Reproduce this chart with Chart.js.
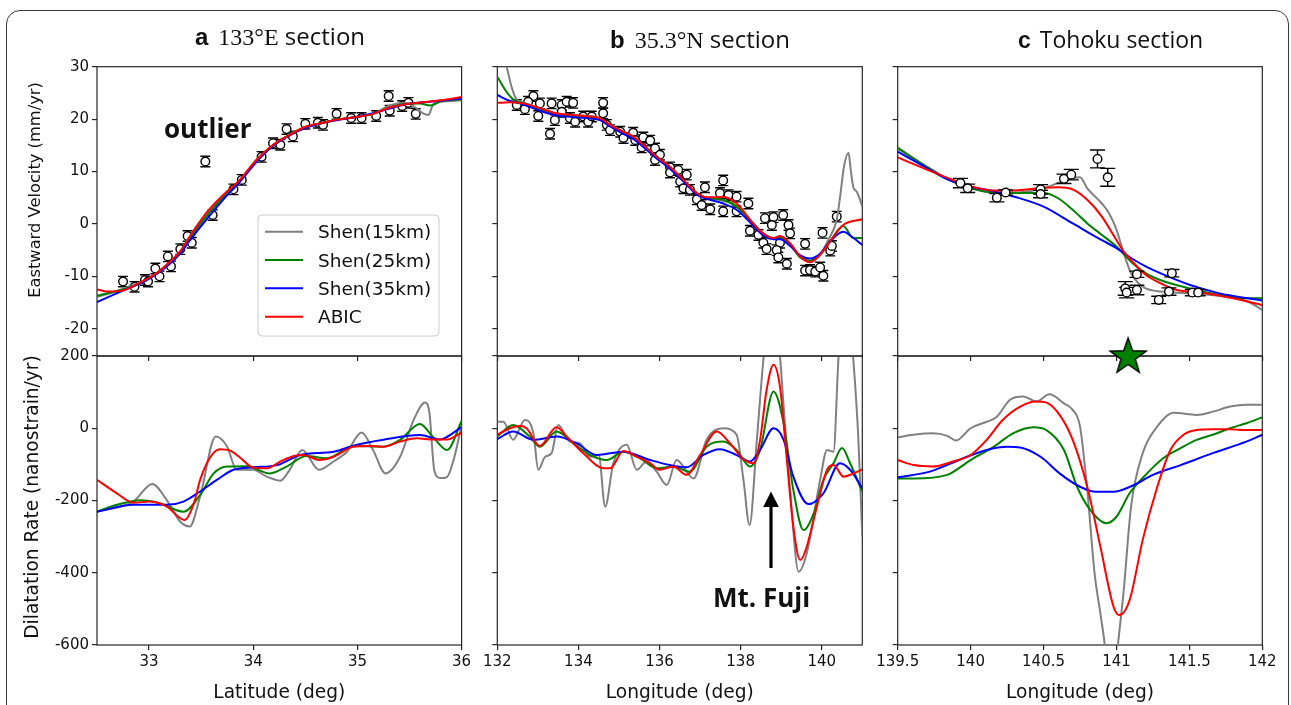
<!DOCTYPE html>
<html><head><meta charset="utf-8">
<script src="https://cdn.jsdelivr.net/npm/chart.js@4.4.1/dist/chart.umd.min.js"></script>
<style>
html,body{margin:0;padding:0;background:#fff;}
#wrap{position:relative;width:1291px;height:705px;overflow:hidden;background:#fff;}
canvas{position:absolute;}
#frame{position:absolute;left:6px;top:10px;width:1283px;height:760px;border:1.5px solid #3a3a3a;border-radius:14px;box-sizing:border-box;}
#ann{position:absolute;left:0;top:0;pointer-events:none;}
</style></head><body>
<div id="wrap">
<div id="frame"></div>
<canvas id="aDil"></canvas><canvas id="bDil"></canvas><canvas id="cDil"></canvas>
<canvas id="aVel"></canvas><canvas id="bVel"></canvas><canvas id="cVel"></canvas>
<svg id="ann" width="1291" height="705" xmlns="http://www.w3.org/2000/svg"></svg>
</div>
<script>
// ---------- series / labels ----------
const SERIES = ['Shen(15km)', 'Shen(25km)', 'Shen(35km)', 'ABIC'];
const COLORS = ['#808080', '#008000', '#0000ff', '#ff0000'];

// ---------- tick labels / ranges ----------
const aLatTicks = [33, 34, 35, 36];
const bLonTicks = [132, 134, 136, 138, 140];
const cLonTicks = [139.5, 140, 140.5, 141, 141.5, 142];
const velTicks = [-20, -10, 0, 10, 20, 30];
const dilTicks = [-600, -400, -200, 0, 200];
const aLatRange = [32.5, 36];
const bLonRange = [132, 141];
const cLonRange = [139.5, 142];
const velRange = [-25.2, 30];
const dilRange = [-600, 200];

// ---------- (a) 133E section, velocity ----------
const aVelLat15 = [32.5,32.65,32.8,32.95,33.07,33.2,33.3,33.39,33.48,33.55,33.71,33.87,34.03,34.19,34.35,34.51,34.67,34.8,34.99,35.15,35.31,35.45,35.55,35.63,35.68,35.73,35.8,36];
const aVel15    = [-13.9,-13.1,-12.0,-11.0,-9.4,-7.3,-5.3,-2.6,0.0,1.7,5.2,8.3,12.2,15.0,17.1,18.6,19.3,19.9,20.4,21.0,22.6,23.1,22.3,21.1,20.8,22.9,23.3,23.6];
const aVelLat25 = [32.5,32.65,32.8,32.95,33.07,33.2,33.3,33.39,33.55,33.71,33.87,34.03,34.19,34.35,34.51,34.67,34.8,34.99,35.15,35.31,35.45,35.6,35.7,35.8,36];
const aVel25    = [-13.7,-13.0,-12.2,-11.0,-9.5,-7.4,-5.4,-2.8,1.4,5.0,8.2,12.0,15.0,17.0,18.5,19.3,19.9,20.4,21.0,22.2,22.9,23.0,22.6,23.4,23.8];
const aVelLat35 = [32.5,32.65,32.8,32.95,33.07,33.2,33.3,33.39,33.55,33.71,33.87,34.03,34.19,34.35,34.51,34.67,34.8,34.99,35.15,35.31,35.45,35.63,35.8,36];
const aVel35    = [-14.9,-13.6,-12.3,-11.0,-9.6,-7.6,-5.6,-3.2,0.8,4.6,8.0,11.8,14.9,16.9,18.4,19.3,19.8,20.4,21.1,22.0,22.8,23.2,23.5,23.9];
const aVelLatAB = [32.5,32.6,32.75,32.9,33.07,33.2,33.3,33.39,33.55,33.71,33.87,34.03,34.19,34.35,34.51,34.67,34.8,34.99,35.15,35.31,35.45,35.63,35.8,36];
const aVelAB    = [-12.5,-12.9,-12.7,-11.3,-9.4,-7.2,-5.2,-2.4,2.1,5.5,8.4,12.2,15.1,17.0,18.6,19.3,19.9,20.4,21.0,22.2,22.8,23.2,23.6,24.2];
const aObsLat = [32.75,32.86,32.96,32.99,33.06,33.10,33.18,33.21,33.30,33.37,33.41,33.54,33.61,33.81,33.89,34.08,34.19,34.26,34.32,34.38,34.50,34.62,34.67,34.80,34.94,35.04,35.18,35.30,35.31,35.43,35.49,35.56];
const aObsVel = [-11.0,-12.0,-10.7,-11.0,-8.5,-10.0,-6.2,-8.1,-4.8,-2.3,-3.6,11.9,1.7,6.6,8.4,12.8,15.4,15.1,18.1,16.7,19.1,19.3,18.9,21.0,20.2,20.2,20.6,24.4,21.6,22.5,23.1,21.0];
const aObsErr = 1.0;

// ---------- (a) dilatation ----------
const aDilLat15 = [32.5,32.85,33.03,33.17,33.3,33.39,33.49,33.64,33.75,33.84,34.0,34.13,34.26,34.35,34.47,34.63,34.77,34.9,35.04,35.15,35.27,35.41,35.54,35.65,35.69,35.74,35.8,35.86,35.93,36];
const aDil15    = [-231,-203,-154,-199,-259,-272,-189,-23,-51,-115,-115,-134,-145,-115,-60,-115,-92,-65,-12,-60,-125,-79,23,71,45,-120,-138,-135,-80,9];
const aDilLat25 = [32.5,32.69,32.92,33.11,33.33,33.49,33.62,33.75,33.94,34.16,34.32,34.51,34.71,34.96,35.25,35.41,35.6,35.73,35.86,36];
const aDil25    = [-231,-212,-199,-208,-231,-185,-125,-106,-105,-125,-106,-77,-83,-49,-51,-32,12,-26,-60,20];
const aDilLat35 = [32.5,32.85,33.17,33.33,33.49,33.65,33.81,34.0,34.23,34.45,34.77,34.99,35.25,35.6,35.79,36];
const aDil35    = [-231,-212,-212,-203,-175,-143,-115,-108,-102,-74,-65,-46,-32,-19,-31,3];
const aDilLatAB = [32.5,32.69,32.85,33.0,33.17,33.3,33.34,33.43,33.49,33.59,33.68,33.78,33.88,34.0,34.13,34.26,34.39,34.48,34.64,34.77,34.96,35.09,35.25,35.41,35.57,35.73,35.86,36];
const aDilAB    = [-143,-180,-206,-203,-217,-249,-254,-208,-143,-79,-58,-62,-83,-109,-111,-92,-77,-74,-88,-79,-51,-49,-51,-37,-28,-31,-31,-12];

// ---------- (b) 35.3N section, velocity ----------
const bVelLon15 = [132,132.23,132.35,132.48,132.64,133.05,133.46,133.87,134.29,134.53,134.78,135.11,135.35,135.6,135.93,136.26,136.59,136.92,137.16,137.57,137.9,138.31,138.56,138.81,138.97,139.22,139.47,139.71,139.96,140.2,140.37,140.45,140.55,140.66,140.72,140.78,140.86,140.95,141];
const bVel15    = [35,30,26.2,23.7,23.2,22.0,21.0,20.7,20.6,20.2,18.9,17.6,16.6,15.0,12.7,10.8,8.3,5.8,5.0,4.4,3.4,0.1,-1.9,-2.8,-2.6,-3.9,-6.3,-7.2,-5.8,-2.5,0.8,5.0,11.0,13.6,10.0,7.0,6.2,4.5,3.3];
const bVelLon25 = [132,132.2,132.4,132.64,133.05,133.46,133.87,134.29,134.53,134.78,135.11,135.35,135.6,135.93,136.26,136.59,136.92,137.16,137.57,137.9,138.31,138.56,138.81,138.97,139.22,139.47,139.71,139.96,140.2,140.53,140.78,141];
const bVel25    = [28.1,25.5,23.7,23.0,21.9,20.9,20.6,20.3,20.0,18.8,17.4,16.5,14.9,12.6,10.7,8.2,5.8,5.0,4.6,3.3,0.0,-2.0,-2.8,-2.6,-4.0,-6.4,-7.0,-5.8,-3.4,-0.4,-2.7,-2.7];
const bVelLon35 = [132,132.3,132.64,133.05,133.46,133.87,134.29,134.53,134.78,135.11,135.35,135.6,135.93,136.26,136.59,136.92,137.16,137.57,137.9,138.31,138.56,138.81,138.97,139.22,139.47,139.71,139.96,140.2,140.53,140.75,141];
const bVel35    = [24.6,23.5,22.8,21.6,20.7,20.4,20.1,19.8,18.6,17.2,16.2,14.7,12.5,10.5,8.1,5.6,4.8,3.9,2.7,-0.3,-2.2,-2.9,-2.9,-4.2,-6.0,-6.6,-5.7,-3.4,-1.5,-2.5,-4.0];
const bVelLonAB = [132,132.3,132.64,133.05,133.46,133.87,134.29,134.53,134.78,135.11,135.35,135.6,135.93,136.26,136.59,136.92,137.16,137.4,137.57,137.9,138.31,138.56,138.81,138.97,139.22,139.47,139.71,139.96,140.2,140.53,141];
const bVelAB    = [23.1,23.2,23.0,22.1,21.1,20.8,20.5,20.2,18.9,17.6,16.7,15.1,12.8,10.9,8.4,5.9,5.1,5.1,5.2,3.9,0.1,-1.8,-2.7,-2.3,-3.7,-6.2,-7.3,-5.9,-3.4,-0.2,0.9];
const bObsLon = [132.48,132.68,132.89,132.76,133.05,133.01,133.34,133.30,133.42,133.59,133.71,133.59,133.79,133.87,133.92,134.12,134.24,134.33,134.61,134.61,134.70,134.78,135.03,135.11,135.35,135.40,135.60,135.77,135.56,135.89,136.01,135.89,136.26,136.26,136.46,136.67,136.51,136.59,136.75,136.92,137.12,137.04,137.25,137.49,137.57,137.57,137.70,137.90,137.90,138.19,138.23,138.44,138.60,138.56,138.64,138.81,139.05,138.77,139.18,139.22,138.97,138.89,138.93,139.14,139.59,139.59,139.71,139.84,139.96,140.04,140.02,140.21,140.25,140.37];
const bObsVel = [22.7,21.9,24.4,23.3,23.0,20.6,23.0,17.2,19.8,22.7,23.3,21.4,20.2,23.1,19.5,20.5,19.5,20.5,23.1,21.1,18.9,17.9,17.6,16.4,17.4,16.0,16.5,15.9,14.6,14.4,13.2,12.2,10.8,9.8,10.3,9.4,8.1,6.8,6.5,4.7,7.0,3.6,2.8,5.9,8.3,2.4,5.5,5.2,2.4,3.9,-1.3,-2.1,1.1,-3.6,-4.8,1.3,1.7,-0.2,-0.2,-1.8,-3.6,-5.0,-6.4,-7.6,-3.8,-8.9,-8.8,-9.1,-8.3,-9.9,-1.7,-5.1,-4.2,1.4];
const bObsErr = 1.0;

// ---------- (b) dilatation ----------
const bDilLon15 = [132,132.15,132.39,132.68,132.89,133.01,133.18,133.34,133.5,133.79,134.04,134.29,134.5,134.66,134.86,135.19,135.44,135.68,135.93,136.18,136.42,136.84,137.16,137.58,137.9,138.07,138.22,138.4,138.56,138.75,138.97,139.06,139.22,139.43,139.63,139.96,140.13,140.29,140.41,140.58,140.78,140.9,141];
const bDil15    = [18,18,-32,23,-14,-115,-79,-69,9,-37,-42,-79,-74,-217,-97,-46,-115,-92,-120,-157,-88,-139,-32,0,-18,-143,-268,-32,189,380,200,60,-171,-397,-346,-143,-60,-65,189,450,189,-23,-300];
const bDilLon25 = [132,132.39,132.8,133.05,133.46,133.88,134.29,134.7,135.11,135.52,135.93,136.34,136.75,137.16,137.58,137.9,138.23,138.48,138.81,139.06,139.3,139.55,139.8,140.04,140.29,140.5,140.7,141];
const bDil25    = [-23,9,-23,-51,-9,-42,-74,-88,-65,-83,-111,-106,-120,-51,-37,-60,-106,-60,102,14,-171,-282,-236,-143,-97,-55,-97,-176];
const bDilLon35 = [132,132.39,132.89,133.46,133.96,134.45,135.11,135.77,136.26,136.67,137.08,137.49,137.9,138.23,138.48,138.81,139.06,139.3,139.67,140.04,140.45,140.7,141];
const bDil35    = [-30,-9,-32,-23,-42,-74,-65,-88,-102,-108,-74,-58,-74,-92,-60,0,-32,-134,-210,-180,-97,-115,-166];
const bDilLonAB = [132,132.31,132.56,132.72,133.05,133.46,133.71,134.12,134.62,134.78,135.11,135.44,135.77,136.01,136.34,136.67,137.0,137.41,137.74,138.07,138.32,138.48,138.64,138.81,138.97,139.14,139.3,139.47,139.63,139.88,140.13,140.29,140.54,140.78,141];
const bDilAB    = [-18,0,6,0,-49,3,-23,-69,-111,-111,-63,-79,-97,-115,-106,-129,-74,-9,-42,-86,-97,-32,106,176,115,-88,-273,-365,-328,-217,-115,-102,-134,-125,-114];

// ---------- (c) Tohoku section, velocity ----------
const cVelLon15 = [139.5,139.68,139.85,140.0,140.15,140.3,140.5,140.6,140.7,140.75,140.8,140.9,140.95,141.0,141.05,141.1,141.15,141.2,141.3,141.5,141.7,141.9,142];
const cVel15    = [14.6,11.3,8.5,6.9,6.0,6.0,6.8,7.8,8.7,8.9,6.8,3.9,2.0,-1.1,-5.6,-9.4,-11.3,-12.3,-12.9,-13.2,-13.7,-14.8,-16.4];
const cVelLon25 = [139.5,139.68,139.85,140.0,140.15,140.3,140.5,140.6,140.7,140.8,140.9,141.0,141.1,141.2,141.3,141.5,141.7,141.9,142];
const cVel25    = [14.4,11.2,8.4,6.8,6.0,5.9,5.9,4.9,2.7,0.1,-2.1,-4.3,-7.2,-9.4,-10.7,-12.3,-13.5,-14.2,-14.2];
const cVelLon35 = [139.5,139.68,139.85,140.0,140.15,140.3,140.5,140.7,140.9,141.0,141.1,141.2,141.3,141.5,141.7,142];
const cVel35    = [13.8,11.0,8.4,7.1,6.3,5.2,3.3,0.1,-3.1,-4.6,-6.5,-8.1,-9.4,-11.6,-13.2,-14.6];
const cVelLonAB = [139.5,139.68,139.85,140.0,140.15,140.3,140.5,140.6,140.7,140.8,140.9,141.0,141.05,141.1,141.2,141.3,141.4,141.6,141.8,142];
const cVelAB    = [12.7,10.6,8.7,7.2,6.4,6.4,6.9,7.0,6.6,4.6,1.4,-3.1,-5.3,-6.9,-9.7,-11.3,-12.5,-13.2,-14.2,-15.5];
const cObsLon = [139.93,139.98,140.18,140.24,140.48,140.48,140.64,140.69,140.87,140.94,141.06,141.07,141.14,141.14,141.29,141.36,141.38,141.52,141.56];
const cObsVel = [7.8,6.8,5.0,6.0,6.6,5.7,8.6,9.4,12.4,8.9,-12.3,-13.1,-12.6,-9.6,-14.5,-12.9,-9.4,-13.1,-13.1];
const cObsErr = [0.9,0.8,0.8,0.5,0.9,0.7,0.9,1.0,1.7,1.7,1.3,1.0,0.9,0.6,0.7,0.7,0.7,0.6,0.6];
const cStarLon = [141.08];

// ---------- (c) dilatation ----------
const cDilLon15 = [139.5,139.61,139.74,139.84,139.9,140.0,140.11,140.18,140.27,140.36,140.45,140.54,140.64,140.7,140.75,140.8,140.85,140.89,140.92,140.965,141.01,141.05,141.1,141.18,141.28,141.39,141.55,141.66,141.78,141.89,142];
const cDil15    = [-25,-18,-14,-21,-34,0,18,32,79,88,74,94,69,51,5,-171,-402,-513,-600,-780,-600,-448,-217,-69,5,43,37,46,60,65,65];
const cDilLon25 = [139.5,139.61,139.84,140.0,140.16,140.29,140.43,140.52,140.64,140.73,140.82,140.93,141.0,141.09,141.21,141.32,141.44,141.55,141.66,141.78,141.89,142];
const cDil25    = [-139,-139,-129,-88,-51,-14,3,-5,-60,-162,-226,-263,-245,-180,-125,-83,-55,-32,-18,0,14,30];
const cDilLon35 = [139.5,139.72,139.95,140.11,140.25,140.34,140.48,140.61,140.75,140.86,140.98,141.12,141.25,141.44,141.66,141.89,142];
const cDil35    = [-136,-120,-83,-60,-51,-53,-79,-125,-162,-176,-176,-157,-129,-102,-69,-37,-18];
const cDilLonAB = [139.5,139.61,139.74,139.88,140.0,140.11,140.22,140.34,140.45,140.52,140.61,140.7,140.8,140.89,140.98,141.02,141.09,141.18,141.28,141.37,141.46,141.55,141.66,141.78,141.89,142];
const cDilAB    = [-88,-102,-106,-92,-74,-32,23,60,74,71,37,-32,-162,-328,-494,-517,-476,-309,-162,-60,-18,-5,-3,-3,-5,-5];

// ---------- helpers ----------
const AX = '#262626';
const zip = (xs, ys) => xs.map((x, k) => ({x: x, y: ys[k]}));
function line(xs, ys, i) {
  return { label: SERIES[i], data: zip(xs, ys), borderColor: COLORS[i], backgroundColor: COLORS[i],
    borderWidth: 2, pointRadius: 0, fill: false, cubicInterpolationMode: 'monotone',
    capBezierPoints: false, borderJoinStyle: 'round' };
}
function obs(xs, ys, err, capHalf) {
  return { label: 'obs', data: zip(xs, ys), showLine: false, pointRadius: 4.3, pointHoverRadius: 4.3,
    pointBackgroundColor: '#fff', pointBorderColor: '#000', pointBorderWidth: 1.4, errors: err, capHalf: capHalf };
}
function starImage(R) {
  const c = document.createElement('canvas'); const s = Math.ceil(R * 2 + 4);
  c.width = s; c.height = s; const g = c.getContext('2d'); const cx = s / 2, cy = s / 2 + R * 0.05;
  g.beginPath();
  for (let k = 0; k < 10; k++) { const r = k % 2 === 0 ? R : R * 0.4; const a = -Math.PI / 2 + k * Math.PI / 5;
    g.lineTo(cx + r * Math.cos(a), cy + r * Math.sin(a)); }
  g.closePath(); g.fillStyle = '#008000'; g.fill(); g.lineWidth = 1.4; g.strokeStyle = '#000'; g.stroke();
  return c;
}

const framePlugin = { id: 'frame', beforeDatasetsDraw(chart) {
  const {ctx, chartArea: a} = chart; ctx.save(); ctx.strokeStyle = AX; ctx.lineWidth = 1.2;
  ctx.strokeRect(a.left, a.top, a.right - a.left, a.bottom - a.top); ctx.restore(); } };
const errPlugin = { id: 'err', beforeDatasetDraw(chart, args) {
  const ds = chart.data.datasets[args.index]; if (ds.errors === undefined) return;
  const {ctx} = chart; const xs = chart.scales.x, ys = chart.scales.y;
  ctx.save(); ctx.strokeStyle = '#000'; ctx.lineWidth = 1.4;
  ds.data.forEach((p, k) => {
    const e = Array.isArray(ds.errors) ? ds.errors[k] : ds.errors;
    const x = xs.getPixelForValue(p.x), y0 = ys.getPixelForValue(p.y - e), y1 = ys.getPixelForValue(p.y + e);
    const h = ds.capHalf; ctx.beginPath();
    ctx.moveTo(x, y0); ctx.lineTo(x, y1);
    ctx.moveTo(x - h, y0); ctx.lineTo(x + h, y0); ctx.moveTo(x - h, y1); ctx.lineTo(x + h, y1);
    ctx.stroke(); });
  ctx.restore(); } };

const COLS = [{L: 97, R: 461.6}, {L: 497.3, R: 862.3}, {L: 897.7, R: 1262.3}];
const ROWS = [{T: 66.7, B: 356}, {T: 356, B: 645}];
const tickFont = {family: 'DejaVu Sans', size: 15};

function panel(id, col, row, xr, yr, xT, yT, showX, showY, datasets) {
  const L = COLS[col].L, R = COLS[col].R, T = ROWS[row].T, B = ROWS[row].B;
  const cl = Math.floor(L) - 60, ct = Math.floor(T) - 12;
  const cw = Math.ceil(R) + 28 - cl, ch = Math.ceil(B) + 38 - ct;
  const cv = document.getElementById(id);
  cv.width = cw; cv.height = ch; cv.style.left = cl + 'px'; cv.style.top = ct + 'px';
  cv.style.width = cw + 'px'; cv.style.height = ch + 'px';
  const yW = L - cl, padTop = T - ct, padRight = cw - (R - cl), xH = ch - (B - ct);
  const axis = (range, ticks, show, fitFn) => ({
    type: 'linear', min: range[0], max: range[1],
    afterBuildTicks: s => { s.ticks = ticks.map(v => ({value: v})); },
    afterFit: fitFn,
    border: {display: false},
    grid: {drawOnChartArea: false, drawTicks: true, tickLength: 5, color: AX, lineWidth: 1.2},
    ticks: {autoSkip: false, maxRotation: 0, minRotation: 0, padding: 3, color: '#111', font: tickFont,
      callback: v => show ? String(v) : ''}
  });
  return new Chart(cv, {
    type: 'line',
    data: {datasets: datasets},
    options: {
      responsive: false, animation: false, devicePixelRatio: 1,
      layout: {autoPadding: false, padding: {top: padTop, right: padRight, left: 0, bottom: 0}},
      elements: {line: {capBezierPoints: false}},
      plugins: {legend: {display: false}, tooltip: {enabled: false}},
      scales: {
        x: axis(xr, xT, showX, s => { s.height = xH; }),
        y: axis(yr, yT, showY, s => { s.width = yW; })
      }
    },
    plugins: [framePlugin, errPlugin]
  });
}

// bottom row (dilatation)
panel('aDil', 0, 1, aLatRange, dilRange, aLatTicks, dilTicks, true, true, [
  line(aDilLatAB, aDilAB, 3), line(aDilLat35, aDil35, 2), line(aDilLat25, aDil25, 1), line(aDilLat15, aDil15, 0)]);
panel('bDil', 1, 1, bLonRange, dilRange, bLonTicks, dilTicks, true, false, [
  line(bDilLonAB, bDilAB, 3), line(bDilLon35, bDil35, 2), line(bDilLon25, bDil25, 1), line(bDilLon15, bDil15, 0)]);
panel('cDil', 2, 1, cLonRange, dilRange, cLonTicks, dilTicks, true, false, [
  line(cDilLonAB, cDilAB, 3), line(cDilLon35, cDil35, 2), line(cDilLon25, cDil25, 1), line(cDilLon15, cDil15, 0)]);
// top row (velocity)
panel('aVel', 0, 0, aLatRange, velRange, aLatTicks, velTicks, false, true, [
  line(aVelLatAB, aVelAB, 3), line(aVelLat35, aVel35, 2), line(aVelLat25, aVel25, 1), line(aVelLat15, aVel15, 0),
  obs(aObsLat, aObsVel, aObsErr, 5)]);
panel('bVel', 1, 0, bLonRange, velRange, bLonTicks, velTicks, false, false, [
  line(bVelLonAB, bVelAB, 3), line(bVelLon35, bVel35, 2), line(bVelLon25, bVel25, 1), line(bVelLon15, bVel15, 0),
  obs(bObsLon, bObsVel, bObsErr, 5)]);
panel('cVel', 2, 0, cLonRange, velRange, cLonTicks, velTicks, false, false, [
  {label: 'epicenter', data: cStarLon.map(x => ({x: x, y: velRange[0]})), showLine: false, clip: false,
   pointStyle: starImage(19), pointRadius: 19},
  obs(cObsLon, cObsVel, cObsErr, 7.5),
  line(cVelLonAB, cVelAB, 3), line(cVelLon35, cVel35, 2), line(cVelLon25, cVel25, 1), line(cVelLon15, cVel15, 0)]);

// ---------- annotations (real SVG text) ----------
const NS = 'http://www.w3.org/2000/svg';
const svg = document.getElementById('ann');
function el(tag, attrs, text) {
  const e = document.createElementNS(NS, tag);
  for (const k in attrs) e.setAttribute(k, attrs[k]);
  if (text !== undefined) e.textContent = text;
  svg.appendChild(e); return e;
}
function title(x, y, letter, serifPart, sansPart, size) {
  const t = el('text', {x: x, y: y, 'font-size': size, fill: '#111'});
  const a = document.createElementNS(NS, 'tspan'); a.setAttribute('font-family', 'Liberation Sans');
  a.setAttribute('font-weight', 'bold'); a.textContent = letter; t.appendChild(a);
  if (serifPart) { const s = document.createElementNS(NS, 'tspan'); s.setAttribute('font-family', 'Liberation Serif');
    s.setAttribute('dx', 4); s.textContent = ' ' + serifPart; t.appendChild(s); }
  const n = document.createElementNS(NS, 'tspan'); n.setAttribute('font-family', 'Open Sans');
  if (!serifPart) n.setAttribute('dx', 3);
  n.textContent = ' ' + sansPart; t.appendChild(n);
}
title(195, 45, 'a', '133°E', 'section', 24);
title(610, 48, 'b', '35.3°N', 'section', 24);
title(1018, 48, 'c', null, 'Tohoku section', 23);

el('text', {transform: 'translate(40,190) rotate(-90)', 'text-anchor': 'middle', 'font-family': 'DejaVu Sans', 'font-size': 16.3, fill: '#111'}, 'Eastward Velocity (mm/yr)');
el('text', {transform: 'translate(38,497) rotate(-90)', 'text-anchor': 'middle', 'font-family': 'DejaVu Sans', 'font-size': 18.6, fill: '#111'}, 'Dilatation Rate (nanostrain/yr)');
const xLabels = ['Latitude (deg)', 'Longitude (deg)', 'Longitude (deg)'];
COLS.forEach((c, i) => el('text', {x: (c.L + c.R) / 2, y: 698, 'text-anchor': 'middle', 'font-family': 'DejaVu Sans', 'font-size': 18.6, fill: '#111'}, xLabels[i]));

el('text', {x: 164, y: 138, 'font-family': 'Open Sans', 'font-weight': 'bold', 'font-size': 26, fill: '#111'}, 'outlier');
el('text', {x: 713, y: 606.5, 'font-family': 'Open Sans', 'font-weight': 'bold', 'font-size': 26, fill: '#111'}, 'Mt. Fuji');
el('line', {x1: 771, y1: 568, x2: 771, y2: 504, stroke: '#000', 'stroke-width': 3.2});
el('polygon', {points: '771,491.5 763.2,507 778.8,507', fill: '#000'});

// legend
el('rect', {x: 258, y: 215, width: 181, height: 121, rx: 4, fill: '#fff', 'fill-opacity': 0.85, stroke: '#cccccc', 'stroke-width': 1});
SERIES.forEach((s, i) => {
  const y = 231.7 + i * 28.33;
  el('line', {x1: 265, y1: y, x2: 303, y2: y, stroke: COLORS[i], 'stroke-width': 2});
  el('text', {x: 318, y: y + 6.7, 'font-family': 'DejaVu Sans', 'font-size': 18.5, fill: '#111'}, s);
});
</script>
</body></html>
